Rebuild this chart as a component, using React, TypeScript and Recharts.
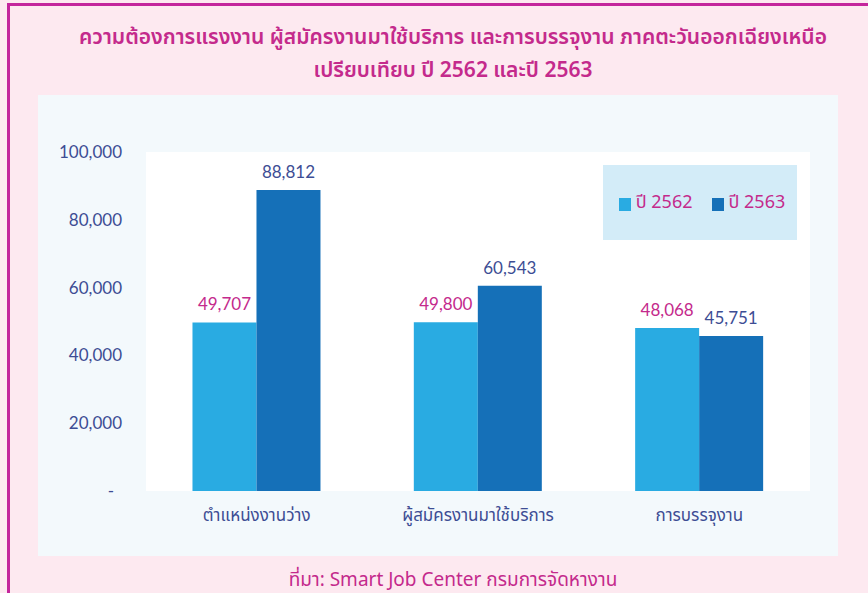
import React from "react";
import { BarChart, Bar, XAxis, YAxis, CartesianGrid, LabelList, Legend } from "recharts";

const categories = ["ตำแหน่งงานว่าง", "ผู้สมัครงานมาใช้บริการ", "การบรรจุงาน"];
const values2562 = [49707, 49800, 48068];
const values2563 = [88812, 60543, 45751];
const yTicks = [0, 20000, 40000, 60000, 80000, 100000];
const seriesNames = ["ปี 2562", "ปี 2563"];

const titleLine1 = "ความต้องการแรงงาน ผู้สมัครงานมาใช้บริการ และการบรรจุงาน ภาคตะวันออกเฉียงเหนือ";
const titleLine2 = "เปรียบเทียบ ปี 2562 และปี 2563";
const footer = "ที่มา: Smart Job Center กรมการจัดหางาน";

const data = categories.map((c, i) => ({ name: c, y2562: values2562[i], y2563: values2563[i] }));

const LIGHT = "#29abe2";
const DARK = "#1570b8";
const MAGENTA = "#c42a8c";
const NAVY = "#3d4d94";
const FONT = "Lato, 'Noto Sans', sans-serif";
const THAI = "'Noto Sans', 'Noto Sans Thai', Lato, sans-serif";

const fmt = (v: number) => v.toLocaleString("en-US");

const YTick = (props: any) => {
  const { x, y, payload } = props;
  const v = payload.value;
  return (
    <text
      x={v === 0 ? x - 8 : x}
      y={y}
      dy="0.35em"
      textAnchor="end"
      fill={NAVY}
      fontSize={17}
      fontFamily={FONT}
    >
      {v === 0 ? "-" : fmt(v)}
    </text>
  );
};

const LegendContent = () => (
  <div
    style={{
      width: 194,
      height: 75,
      background: "#d3ecf8",
      display: "flex",
      alignItems: "center",
      justifyContent: "center",
      gap: 19,
      fontFamily: THAI,
      fontSize: 18,
      color: MAGENTA,
      paddingLeft: 4,
      boxSizing: "border-box",
    }}
  >
    {seriesNames.map((n, i) => (
      <div key={n} style={{ display: "flex", alignItems: "center" }}>
        <span
          style={{
            display: "inline-block",
            width: 12,
            height: 13,
            background: i === 0 ? LIGHT : DARK,
            marginRight: 5,
            marginTop: 4,
          }}
        />
        <span>{n}</span>
      </div>
    ))}
  </div>
);

export default function App() {
  return (
    <div
      style={{
        position: "absolute",
        left: 0,
        top: 0,
        width: 868,
        height: 593,
        background: "#fde9f0",
        overflow: "hidden",
      }}
    >
      <div style={{ position: "absolute", left: 7, top: 3, width: 861, height: 3, background: "#c4259c" }} />
      <div style={{ position: "absolute", left: 7, top: 3, width: 3, height: 590, background: "#c4259c" }} />
      <div
        style={{
          position: "absolute",
          left: 38,
          top: 95,
          width: 800,
          height: 461,
          background: "#f3f9fc",
        }}
      />
      <div
        style={{
          position: "absolute",
          left: 0,
          width: 906,
          top: 20,
          textAlign: "center",
          color: MAGENTA,
          fontFamily: THAI,
          fontWeight: 600,
          fontSize: 21,
          lineHeight: "33px",
        }}
      >
        <div>{titleLine1}</div>
        <div>{titleLine2}</div>
      </div>
      <div
        style={{
          position: "absolute",
          left: 0,
          width: 906,
          top: 566,
          textAlign: "center",
          color: MAGENTA,
          fontFamily: THAI,
          fontSize: 19,
          lineHeight: "26px",
        }}
      >
        {footer}
      </div>
      <div style={{ position: "absolute", left: 0, top: 0 }}>
        <BarChart
          width={868}
          height={593}
          data={data}
          margin={{ top: 152, right: 58, bottom: 62, left: 46 }}
          barCategoryGap="21%"
          barGap={0}
        >
          <CartesianGrid fill="#ffffff" stroke="none" />
          <XAxis
            dataKey="name"
            axisLine={false}
            tickLine={false}
            tickSize={0}
            tickMargin={18}
            height={40}
            tick={{ fill: NAVY, fontSize: 17, fontFamily: THAI }}
          />
          <YAxis
            width={100}
            domain={[0, 100000]}
            ticks={yTicks}
            axisLine={false}
            tickLine={false}
            tickSize={0}
            tickMargin={24}
            tick={<YTick />}
          />
          <Legend
            layout="horizontal"
            verticalAlign="middle"
            align="center"
            wrapperStyle={{ position: "absolute", left: 603, top: 165, width: 194, height: 75 }}
            content={<LegendContent />}
          />
          <Bar dataKey="y2562" name={seriesNames[0]} fill={LIGHT} isAnimationActive={false}>
            <LabelList
              dataKey="y2562"
              position="top"
              offset={12}
              formatter={(v: any) => fmt(Number(v))}
              style={{ fill: MAGENTA, fontSize: 17, fontFamily: FONT }}
            />
          </Bar>
          <Bar dataKey="y2563" name={seriesNames[1]} fill={DARK} isAnimationActive={false}>
            <LabelList
              dataKey="y2563"
              position="top"
              offset={12}
              formatter={(v: any) => fmt(Number(v))}
              style={{ fill: NAVY, fontSize: 17, fontFamily: FONT }}
            />
          </Bar>
        </BarChart>
      </div>
    </div>
  );
}
